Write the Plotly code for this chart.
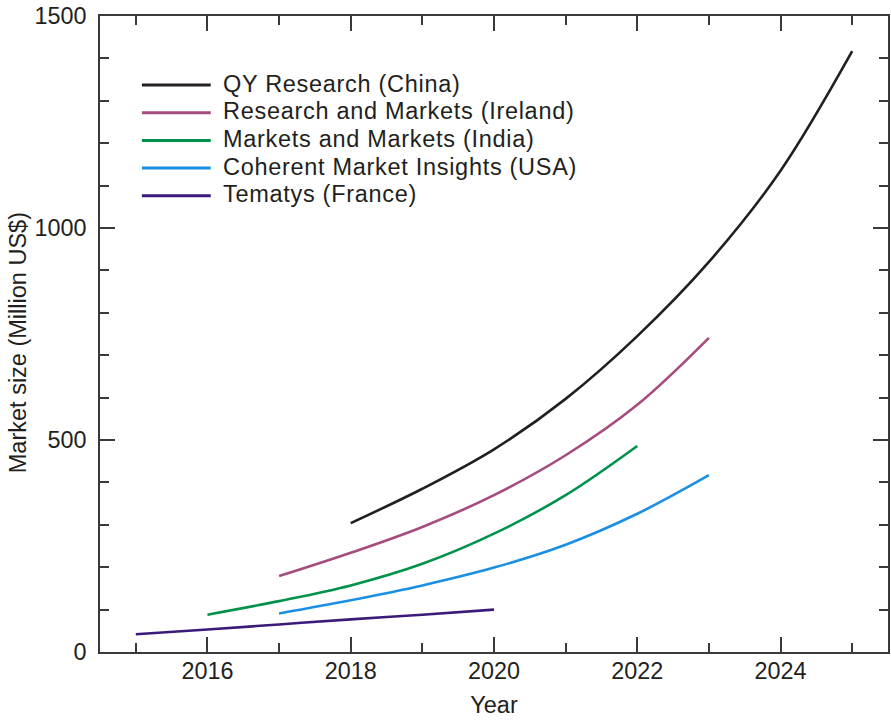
import plotly.graph_objects as go

# Market size forecasts (Million US$) by research firm
years_qy = [2018, 2019, 2020, 2021, 2022, 2023, 2024, 2025]
qy_research = [304, 385, 478, 597, 745, 920, 1135, 1417]

years_rm = [2017, 2018, 2019, 2020, 2021, 2022, 2023]
research_markets = [179, 234, 295, 370, 464, 583, 741]

years_mm = [2016, 2017, 2018, 2019, 2020, 2021, 2022]
markets_markets = [88, 120, 157, 208, 279, 370, 486]

years_cmi = [2017, 2018, 2019, 2020, 2021, 2022, 2023]
coherent = [91, 122, 157, 199, 253, 326, 417]

years_tem = [2015, 2016, 2017, 2018, 2019, 2020]
tematys = [42, 53, 65, 77, 88, 100]

names = [
    "QY Research (China)",
    "Research and Markets (Ireland)",
    "Markets and Markets (India)",
    "Coherent Market Insights (USA)",
    "Tematys (France)",
]
colors = ["#231f20", "#a64b7e", "#00924a", "#1a8fe3", "#3b1a7a"]
series = [
    (years_qy, qy_research),
    (years_rm, research_markets),
    (years_mm, markets_markets),
    (years_cmi, coherent),
    (years_tem, tematys),
]

FONT = "Liberation Sans, Arial, sans-serif"
TXT = "#231f20"
AX = "#3a3a3a"

fig = go.Figure()
for (xs, ys), name, col in zip(series, names, colors):
    fig.add_trace(go.Scatter(
        x=xs, y=ys, name=name, mode="lines",
        line=dict(color=col, width=2.6, shape="spline", smoothing=1.0),
        showlegend=False,
    ))

# Hand-built legend with long line keys
W, H = 891, 722
L, R, T, B = 100, 1, 16, 70
pw, ph = W - L - R, H - T - B
def px_x(p):
    return (p - L) / pw
def px_y(p):
    return (H - B - p) / ph

row0, step = 85, 27.7
for i, (name, col) in enumerate(zip(names, colors)):
    yy = px_y(row0 + i * step)
    fig.add_shape(type="line", xref="paper", yref="paper",
                  x0=px_x(142), x1=px_x(211), y0=yy, y1=yy,
                  line=dict(color=col, width=3))
    fig.add_annotation(xref="paper", yref="paper", x=px_x(221), y=px_y(row0 + i * step - 1.5),
                       text=f'<span style="letter-spacing:0.7px">{name}</span>',
                       showarrow=False, xanchor="left", yanchor="middle",
                       font=dict(family=FONT, size=23.5, color=TXT))

# Y-axis title placed as a rotated annotation
fig.add_annotation(xref="paper", yref="paper", x=px_x(18), y=px_y(343),
                   text="Market size (Million US$)", textangle=-90, showarrow=False,
                   xanchor="center", yanchor="middle",
                   font=dict(family=FONT, size=23.5, color=TXT))

axis_common = dict(
    showline=True, linecolor=AX, linewidth=1.5, mirror="allticks",
    ticks="inside", ticklen=15, tickwidth=1.5, tickcolor=AX,
    showgrid=False, zeroline=False,
    tickfont=dict(family=FONT, size=23.4, color=TXT),
)

fig.update_xaxes(
    range=[2014.5, 2025.5], tickvals=[2016, 2018, 2020, 2022, 2024],
    minor=dict(ticks="inside", ticklen=9, tickwidth=1.5, tickcolor=AX,
               tickvals=[2015, 2017, 2019, 2021, 2023, 2025], showgrid=False),
    title=dict(text="Year", font=dict(family=FONT, size=23.5, color=TXT), standoff=14),
    ticklabelstandoff=-3,
    **axis_common,
)
fig.update_yaxes(
    range=[0, 1500], tickvals=[0, 500, 1000, 1500],
    minor=dict(ticks="inside", ticklen=9, tickwidth=1.5, tickcolor=AX,
               dtick=100, showgrid=False),
    ticklabelstandoff=7,
    **axis_common,
)

fig.update_layout(
    width=W, height=H,
    margin=dict(l=L, r=R, t=T, b=B),
    paper_bgcolor="white", plot_bgcolor="white",
    font=dict(family=FONT, size=20, color=TXT),
)

fig.write_html("out.html")
